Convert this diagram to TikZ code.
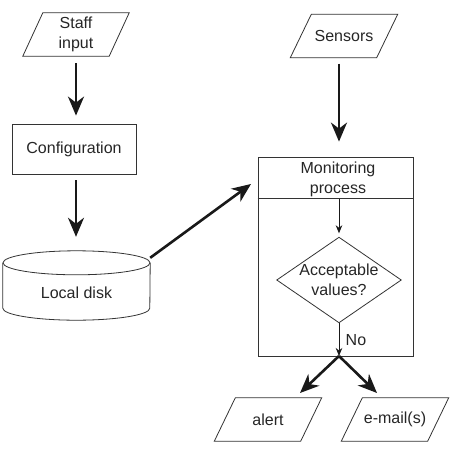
\documentclass[tikz,border=0pt]{standalone}
\usepackage{fontspec}
\setmainfont{Liberation Sans}
\usetikzlibrary{arrows.meta,calc}
\begin{document}
\begin{tikzpicture}[x=1pt,y=-1pt,
  txt/.style={font=\fontsize{16}{19.5}\selectfont, text=black!85, align=center, inner sep=0pt},
  outline/.style={draw=black!80, line width=0.8pt},
  io/.style={txt, minimum width=86, minimum height=43},
  big/.style={-{Stealth[length=19pt,width=16pt,inset=6pt]}, line width=2.6pt, draw=black!90},
  small/.style={-{Stealth[length=8pt,width=6.5pt,inset=2.5pt]}, line width=0.9pt, draw=black!90},
]
\useasboundingbox[fill=white] (0,0) rectangle (457,461);
\newcommand{\pgram}[2]{\draw[outline] ($(#1.south west)+(-#2,0)$) -- ($(#1.north west)+(#2,0)$) -- ($(#1.north east)+(#2,0)$) -- ($(#1.south east)+(-#2,0)$) -- cycle;}

% left column
\node[io] (staff) at (76,34.5) {Staff\\input};
\pgram{staff}{10}
\node[txt, outline, minimum width=124, minimum height=50] (config) at (74,149) {Configuration};
\node[minimum width=147, minimum height=69, inner sep=0pt] (disk) at (76.5,285.5) {};
\draw[outline] ($(disk.north)+(0,12)$) ellipse [x radius=73.5, y radius=12];
\draw[outline] ($(disk.north west)+(0,12)$) -- ($(disk.south west)+(0,-12)$)
  arc[start angle=180, end angle=0, x radius=73.5, y radius=12] -- ($(disk.north east)+(0,12)$);
\node[txt] (disklbl) at (76.5,293) {Local disk};

% right column
\node[io] (sens) at (344,36) {Sensors};
\pgram{sens}{10.5}
\node[outline, minimum width=155, minimum height=199, inner sep=0pt] (mon) at (335.5,256.5) {};
\draw[outline] ($(mon.north west)+(0,42)$) -- ($(mon.north east)+(0,42)$);
\node[txt] (montitle) at (338,179.5) {Monitoring\\process};
\node[txt, minimum width=124, minimum height=85] (acc) at (339,280) {Acceptable\\values?};
\draw[outline] (acc.north) -- (acc.east) -- (acc.south) -- (acc.west) -- cycle;
\coordinate (div) at (339,199);
\coordinate (split) at (339,356);
\node[txt, anchor=west] (no) at (345.5,340) {No};

\node[io] (alert) at (268,419.5) {alert};
\pgram{alert}{10.5}
\node[io] (email) at (395,419.5) {e-mail(s)};
\pgram{email}{10.5}
\coordinate (tipA) at (300,393);
\coordinate (tipB) at (377,393);
\coordinate (monin) at (251,184);

% connectors
\draw[big, shorten <=7pt, shorten >=8pt] (staff.south) -- (staff.south |- config.north);
\draw[big, shorten <=6pt, shorten >=14pt] (staff.south |- config.south) -- (staff.south |- disk.north);
\draw[big] ($(disk.north east)+(0,7)$) -- (monin);
\draw[big, shorten <=6pt, shorten >=15pt] (sens.south -| div) -- (mon.north -| div);
\draw[small, shorten >=4pt] (div) -- (acc.north);
\draw[small] (acc.south) -- (split);
\draw[big] (split) -- (tipA);
\draw[big] (split) -- (tipB);
\end{tikzpicture}
\end{document}
